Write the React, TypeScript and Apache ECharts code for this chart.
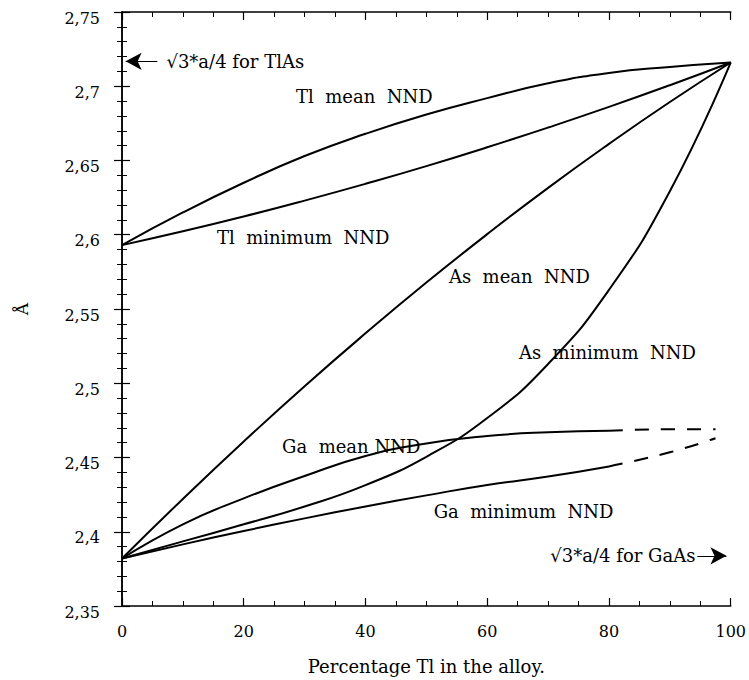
import React, { useEffect, useRef } from "react";
import * as echarts from "echarts";

const XS = [0, 10, 20, 30, 40, 50, 60, 70, 80, 90, 100];
const TL_MEAN = [2.593, 2.615, 2.635, 2.653, 2.668, 2.681, 2.692, 2.702, 2.709, 2.713, 2.716];
const TL_MIN = [2.593, 2.6023, 2.6123, 2.623, 2.6343, 2.6462, 2.6589, 2.6722, 2.6861, 2.7007, 2.716];
const AS_MEAN = [2.382, 2.4221, 2.4608, 2.498, 2.5336, 2.5678, 2.6004, 2.6316, 2.6612, 2.6894, 2.716];
const AS_MIN = [2.382, 2.3935, 2.405, 2.417, 2.4314, 2.4505, 2.4766, 2.513, 2.5629, 2.6293, 2.716];

const XS_GA = [0, 10, 20, 30, 40, 50, 60, 70, 80];
const GA_MEAN = [2.382, 2.405, 2.4225, 2.4375, 2.451, 2.4595, 2.4645, 2.467, 2.468];
const GA_MIN = [2.382, 2.3915, 2.4005, 2.409, 2.417, 2.4245, 2.4315, 2.4372, 2.444];

const XS_GA_DASH = [80, 90, 97.5];
const GA_MEAN_DASH = [2.468, 2.469, 2.469];
const GA_MIN_DASH = [2.444, 2.4535, 2.463];

const TLAS_LEVEL = 2.7168;
const GAAS_LEVEL = 2.3838;

const FONT = "DejaVu Serif";
const TICK_FS = 16;
const LABEL_FS = 18;
const TITLE_FS = 18;

const LABELS: { text: string; x: number; y: number; align: string }[] = [
  { text: "Tl  mean  NND", x: 28.6, y: 2.693, align: "left" },
  { text: "Tl  minimum  NND", x: 15.6, y: 2.598, align: "left" },
  { text: "As  mean  NND", x: 53.7, y: 2.5718, align: "left" },
  { text: "As  minimum  NND", x: 65.2, y: 2.5206, align: "left" },
  { text: "Ga  mean NND", x: 26.3, y: 2.4572, align: "left" },
  { text: "Ga  minimum  NND", x: 51.2, y: 2.4134, align: "left" },
  { text: "\u221A3*a/4 for TlAs", x: 7.3, y: TLAS_LEVEL, align: "left" },
  { text: "\u221A3*a/4 for GaAs", x: 94.2, y: GAAS_LEVEL, align: "right" },
];

const zip = (xs: number[], ys: number[]) => xs.map((x, i) => [x, ys[i]]);

export default function App() {
  const ref = useRef<HTMLDivElement>(null);
  useEffect(() => {
    if (!ref.current) return;
    const chart = echarts.init(ref.current, undefined, { renderer: "svg" });
    const axisLine = { show: true, lineStyle: { color: "#000", width: 1.5 } };
    const tick = { show: true, inside: true, length: 8, lineStyle: { color: "#000", width: 1.2 } };
    const minor = (n: number) => ({ show: true, splitNumber: n, length: 5, lineStyle: { color: "#000", width: 1 } });
    const line = (name: string, data: number[][], dashed: boolean) => ({
      type: "line",
      name,
      data,
      smooth: 0.5,
      showSymbol: false,
      symbol: "none",
      lineStyle: { color: "#000", width: 2, type: dashed ? [14, 12] : "solid" },
      z: 3,
    });
    const tickText = { fontFamily: FONT, fontSize: TICK_FS, color: "#000" };
    chart.setOption({
      animation: false,
      textStyle: { fontFamily: FONT },
      grid: { left: 122, right: 17, top: 12, bottom: 74, containLabel: false },
      xAxis: [
        {
          type: "value",
          min: 0,
          max: 100,
          interval: 20,
          position: "bottom",
          name: "Percentage Tl in the alloy.",
          nameLocation: "middle",
          nameGap: 51,
          nameTextStyle: { fontFamily: FONT, fontSize: TITLE_FS, color: "#000" },
          axisLine,
          axisTick: tick,
          minorTick: minor(4),
          splitLine: { show: false },
          axisLabel: { ...tickText, margin: 17 },
        },
        {
          type: "value",
          min: 0,
          max: 100,
          interval: 20,
          position: "top",
          axisLine,
          axisTick: tick,
          minorTick: minor(4),
          splitLine: { show: false },
          axisLabel: { show: false },
        },
      ],
      yAxis: [
        {
          type: "value",
          min: 2.35,
          max: 2.75,
          interval: 0.05,
          position: "left",
          name: "Å",
          nameLocation: "middle",
          nameGap: 92,
          nameRotate: 90,
          nameTextStyle: { fontFamily: FONT, fontSize: 17, color: "#000" },
          axisLine,
          axisTick: tick,
          minorTick: minor(5),
          splitLine: { show: false },
          axisLabel: {
            ...tickText,
            margin: 22,
            verticalAlign: "top",
            lineHeight: 12,
            formatter: (v: number) => String(parseFloat(v.toFixed(2))).replace(".", ","),
          },
        },
        {
          type: "value",
          min: 2.35,
          max: 2.75,
          interval: 0.05,
          position: "right",
          axisLine,
          axisTick: tick,
          minorTick: minor(5),
          splitLine: { show: false },
          axisLabel: { show: false },
        },
      ],
      series: [
        line("Tl mean", zip(XS, TL_MEAN), false),
        line("Tl min", zip(XS, TL_MIN), false),
        line("As mean", zip(XS, AS_MEAN), false),
        line("As min", zip(XS, AS_MIN), false),
        line("Ga mean", zip(XS_GA, GA_MEAN), false),
        line("Ga min", zip(XS_GA, GA_MIN), false),
        line("Ga mean dash", zip(XS_GA_DASH, GA_MEAN_DASH), true),
        line("Ga min dash", zip(XS_GA_DASH, GA_MIN_DASH), true),
        {
          type: "line",
          name: "arrows",
          data: [],
          markLine: {
            silent: true,
            symbol: ["none", "arrow"],
            symbolSize: [13, 16],
            label: { show: false },
            lineStyle: { color: "#000", width: 1, type: "solid" },
            data: [
              [{ coord: [5.8, TLAS_LEVEL] }, { coord: [0.6, TLAS_LEVEL] }],
              [{ coord: [94.5, GAAS_LEVEL] }, { coord: [99.3, GAAS_LEVEL] }],
            ],
          },
        },
      ],
    });
    const graphic = LABELS.map((l) => {
      const p = chart.convertToPixel({ xAxisIndex: 0, yAxisIndex: 0 }, [l.x, l.y]);
      return {
        type: "text",
        x: p[0],
        y: p[1],
        style: {
          text: l.text,
          fontFamily: FONT,
          fontSize: LABEL_FS,
          fill: "#000",
          align: l.align,
          verticalAlign: "middle",
        },
        z: 10,
      };
    });
    chart.setOption({ graphic });
    return () => chart.dispose();
  }, []);
  return <div ref={ref} style={{ position: "fixed", left: 0, top: 0, width: 749, height: 680, background: "#fff" }} />;
}
